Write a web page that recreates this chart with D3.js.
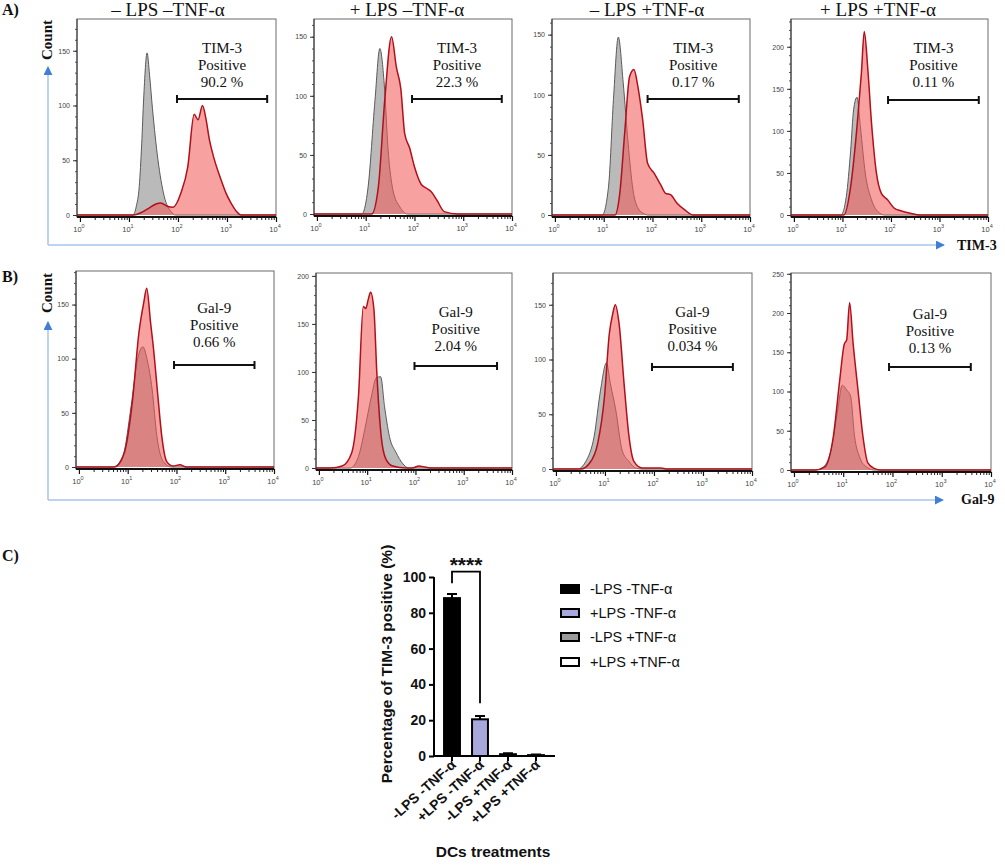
<!DOCTYPE html>
<html><head><meta charset="utf-8">
<script src="https://cdn.jsdelivr.net/npm/d3@7"></script>
<style>html,body{margin:0;padding:0;background:#fff;}svg{display:block;}</style>
</head><body>
<script>
// ---------------- DATA ----------------
const tim3Titles = ["– LPS –TNF-α", "+ LPS –TNF-α", "– LPS +TNF-α", "+ LPS +TNF-α"];
const tim3Pct = ["90.2 %", "22.3 %", "0.17 %", "0.11 %"];
const gal9Pct = ["0.66 %", "2.04 %", "0.034 %", "0.13 %"];
const tim3Gate = [[1.98, 3.82], [1.95, 3.79], [1.9, 3.77], [1.94, 3.81]];
const gal9Gate = [[1.95, 3.6], [1.98, 3.69], [1.96, 3.61], [1.93, 3.59]];
const tim3YTicks = [[0,50,100,150],[0,50,100,150],[0,50,100,150],[0,50,100,150,200]];
const gal9YTicks = [[0,50,100,150],[0,50,100,150,200],[0,50,100,150],[0,50,100,150,200,250]];
const tim3YMax = [179, 165, 163, 233];
const gal9YMax = [181, 203, 179, 251];
const xTickExps = [0, 1, 2, 3, 4];

// histogram points: [log10 fluorescence, count]
const a1Gray = [[1.08,0],[1.15,8],[1.21,26],[1.26,65],[1.3,106],[1.37,148],[1.42,128],[1.48,97],[1.59,51],[1.72,17],[1.86,3],[1.95,0]];
const a1Red = [[1.1,0],[1.24,2],[1.4,6],[1.55,10],[1.65,11],[1.78,8],[1.9,7],[2.06,20],[2.2,44],[2.33,92],[2.41,87],[2.5,100],[2.57,88],[2.64,69],[2.74,51],[2.88,32],[2.98,20],[3.08,11],[3.18,4],[3.29,0]];
const a2Gray = [[0.92,0],[1.05,23],[1.19,96],[1.29,140],[1.38,110],[1.46,54],[1.56,20],[1.7,6],[1.86,0]];
const a2Red = [[1.12,0],[1.26,23],[1.39,96],[1.53,150],[1.63,124],[1.72,106],[1.8,68],[1.9,56],[2.0,40],[2.14,25],[2.24,22],[2.34,19],[2.47,11],[2.61,2],[2.88,0]];
const a3Gray = [[0.97,0],[1.1,24],[1.2,96],[1.3,148],[1.4,110],[1.5,60],[1.6,21],[1.7,6],[1.83,1],[1.9,0]];
const a3Red = [[1.23,0],[1.33,18],[1.43,68],[1.53,115],[1.62,121],[1.7,107],[1.8,79],[1.9,43],[2.03,35],[2.17,25],[2.27,18],[2.37,17],[2.5,10],[2.67,4],[2.83,0]];
const a4Gray = [[0.97,0],[1.08,22],[1.17,77],[1.23,125],[1.3,140],[1.37,105],[1.47,50],[1.6,18],[1.73,4],[1.87,0]];
const a4Red = [[1.03,0],[1.17,34],[1.3,105],[1.39,168],[1.45,218],[1.52,176],[1.6,109],[1.7,50],[1.8,26],[1.93,18],[2.07,8],[2.2,5],[2.4,2],[2.6,0]];
const b1Gray = [[0.7,0],[0.9,10],[1.07,56],[1.2,99],[1.31,111],[1.4,99],[1.5,72],[1.6,28],[1.73,5],[1.9,0]];
const b1Red = [[0.73,0],[0.93,13],[1.1,62],[1.23,124],[1.33,152],[1.39,165],[1.47,133],[1.53,109],[1.62,65],[1.7,28],[1.8,5],[1.93,1],[2.07,2],[2.2,0]];
const b2Gray = [[0.65,0],[0.82,12],[0.95,40],[1.09,75],[1.19,94],[1.28,95],[1.36,64],[1.46,33],[1.6,16],[1.73,5],[1.86,0]];
const b2Red = [[0.24,0],[0.48,2],[0.68,16],[0.82,75],[0.92,168],[0.97,166],[1.02,175],[1.07,183],[1.14,165],[1.2,99],[1.29,33],[1.39,9],[1.53,2],[1.8,0],[1.93,0],[2.07,2],[2.2,1],[2.34,0]];
const b3Gray = [[0.44,0],[0.61,7],[0.78,30],[0.91,72],[1.03,97],[1.11,78],[1.22,54],[1.35,17],[1.49,7],[1.62,1],[1.76,0]];
const b3Red = [[0.51,0],[0.68,5],[0.85,23],[0.99,66],[1.09,124],[1.16,142],[1.21,150],[1.29,132],[1.39,78],[1.49,30],[1.59,7],[1.76,1],[1.93,1],[2.14,1],[2.27,0]];
const b4Gray = [[0.43,0],[0.6,4],[0.77,30],[0.89,77],[0.98,108],[1.07,102],[1.15,94],[1.23,43],[1.33,17],[1.47,4],[1.63,0]];
const b4Red = [[0.43,0],[0.63,4],[0.8,43],[0.93,115],[1.02,160],[1.07,166],[1.13,213],[1.2,162],[1.3,102],[1.4,43],[1.5,9],[1.63,2],[1.77,0]];

const barCategories = ["-LPS -TNF-α", "+LPS -TNF-α", "-LPS +TNF-α", "+LPS +TNF-α"];
const barValues = [88.2, 20.5, 1.0, 0.5];
const barErrors = [2.3, 1.9, 0.5, 0.3];
const barFills = ["#000000", "#a9a8dc", "#9a9a9a", "#ffffff"];
const barYTicks = [0, 20, 40, 60, 80, 100];

// ---------------- LAYOUT ----------------
const W = 1005, H = 865;
const SERIF = "'Liberation Serif','Times New Roman',serif";
const SANS = "'Liberation Sans',Arial,sans-serif";
const svg = d3.select("body").append("svg").attr("width", W).attr("height", H);

const rowA = [{x0:77,x1:276,top:19,bot:217},{x0:314,x1:512,top:19,bot:216},{x0:552,x1:750,top:19,bot:217},{x0:791,x1:988,top:19,bot:217}];
const rowB = [{x0:76,x1:274,top:271,bot:469},{x0:316,x1:512,top:273,bot:470},{x0:553,x1:752,top:273,bot:471},{x0:791,x1:991,top:273,bot:472}];
const titleX = [168, 407, 647, 878];
const labelYA = [53, 53, 53, 53];
const labelYB = [313, 317, 317, 319];
const gateYA = [99, 99, 99, 100];
const gateYB = [365, 366, 367, 367];
const xDom = [-0.06, 4];

function drawHist(p, gray, red, yMax, yTicks, gate, marker, pct, labelY, gateY) {
  const x = d3.scaleLinear().domain(xDom).range([p.x0, p.x1]);
  const xLog = d3.scaleLog().domain([Math.pow(10, xDom[0]), 1e4]).range([p.x0, p.x1]);
  const y = d3.scaleLinear().domain([0, yMax]).range([p.bot - 2, p.top]);
  const g = svg.append("g");
  g.append("rect").attr("x", p.x0).attr("y", p.top).attr("width", p.x1 - p.x0).attr("height", p.bot - p.top)
    .attr("fill", "none").attr("stroke", "#6a6a6a").attr("stroke-width", 1);
  const ext = arr => [[xDom[0], 0]].concat(arr, [[xDom[1], 0]]);
  const area = d3.area().x(d => x(d[0])).y0(y(0)).y1(d => y(d[1])).curve(d3.curveMonotoneX);
  const line = d3.line().x(d => x(d[0])).y(d => y(d[1])).curve(d3.curveMonotoneX);
  const clipId = "c" + Math.round(p.x0) + "_" + Math.round(p.top);
  g.append("clipPath").attr("id", clipId).append("rect").attr("x", p.x0).attr("y", p.top).attr("width", p.x1 - p.x0).attr("height", p.bot - p.top);
  const pg = g.append("g").attr("clip-path", `url(#${clipId})`);
  pg.append("path").datum(ext(gray)).attr("d", area).attr("fill", "#bababa");
  pg.append("path").datum(ext(gray)).attr("d", line).attr("fill", "none").attr("stroke", "#5a5a5a").attr("stroke-width", 1);
  pg.append("path").datum(ext(red)).attr("d", area).attr("fill", "rgb(241,87,87)").attr("fill-opacity", 0.56);
  pg.append("path").datum(ext(red)).attr("d", line).attr("fill", "none").attr("stroke", "#b0101a").attr("stroke-width", 1.5);
  const minorY = d3.range(0, yMax + 0.01, 10);
  g.append("g").attr("transform", `translate(${p.x0},0)`)
    .call(d3.axisLeft(y).tickValues(minorY).tickSize(2).tickFormat(""))
    .call(a => a.select(".domain").remove())
    .call(a => a.selectAll("line").attr("stroke", "#555"));
  g.append("g").attr("transform", `translate(${p.x0},0)`)
    .call(d3.axisLeft(y).tickValues(yTicks).tickSize(4).tickPadding(3))
    .call(a => a.select(".domain").attr("stroke", "#333").attr("d", `M0,${p.bot}V${p.top}`))
    .call(a => a.selectAll("line").attr("stroke", "#333"))
    .call(a => a.selectAll("text").attr("font-family", SANS).attr("font-size", 7).attr("fill", "#444"));
  const minorX = [];
  for (let e = 0; e < 4; e++) for (let m = 2; m <= 9; m++) minorX.push(m * Math.pow(10, e));
  g.append("g").attr("transform", `translate(0,${p.bot})`)
    .call(d3.axisBottom(xLog).tickValues(minorX).tickSize(3).tickFormat(""))
    .call(a => a.select(".domain").remove())
    .call(a => a.selectAll("line").attr("stroke", "#222"));
  g.append("g").attr("transform", `translate(0,${p.bot})`)
    .call(d3.axisBottom(xLog).tickValues(xTickExps.map(e => Math.pow(10, e))).tickSize(5).tickFormat(""))
    .call(a => a.select(".domain").attr("stroke", "#111").attr("stroke-width", 2).attr("d", `M${p.x0},0H${p.x1}`))
    .call(a => a.selectAll("line").attr("stroke", "#111").attr("stroke-width", 1.2));
  xTickExps.forEach(e => {
    const t = g.append("text").attr("x", xLog(Math.pow(10, e)) - 1).attr("y", p.bot + 15)
      .attr("text-anchor", "middle").attr("font-family", SANS).attr("font-size", 7.5).attr("fill", "#444");
    t.append("tspan").text("10");
    t.append("tspan").attr("dy", -4).attr("font-size", 5.5).text(e);
  });
  const gx0 = x(gate[0]), gx1 = x(gate[1]), gc = (gx0 + gx1) / 2;
  [marker, "Positive", pct].forEach((s, i) => {
    g.append("text").attr("x", gc).attr("y", labelY + i * 17).attr("text-anchor", "middle")
      .attr("font-family", SERIF).attr("font-size", 15).attr("fill", "#111").text(s);
  });
  g.append("path").attr("d", `M${gx0},${gateY}H${gx1}M${gx0},${gateY - 4}V${gateY + 4}M${gx1},${gateY - 4}V${gateY + 4}`)
    .attr("stroke", "#111").attr("stroke-width", 2).attr("fill", "none");
}

const aGray = [a1Gray, a2Gray, a3Gray, a4Gray], aRed = [a1Red, a2Red, a3Red, a4Red];
const bGray = [b1Gray, b2Gray, b3Gray, b4Gray], bRed = [b1Red, b2Red, b3Red, b4Red];
rowA.forEach((p, i) => drawHist(p, aGray[i], aRed[i], tim3YMax[i], tim3YTicks[i], tim3Gate[i], "TIM-3", tim3Pct[i], labelYA[i], gateYA[i]));
rowB.forEach((p, i) => drawHist(p, bGray[i], bRed[i], gal9YMax[i], gal9YTicks[i], gal9Gate[i], "Gal-9", gal9Pct[i], labelYB[i], gateYB[i]));

tim3Titles.forEach((t, i) => svg.append("text").attr("x", titleX[i]).attr("y", 16).attr("text-anchor", "middle")
  .attr("font-family", SERIF).attr("font-size", 19).attr("fill", "#111").text(t));

[["A)", 15], ["B)", 282], ["C)", 561]].forEach(([s, yy]) => svg.append("text").attr("x", 2).attr("y", yy)
  .attr("font-family", SERIF).attr("font-weight", "bold").attr("font-size", 16).attr("fill", "#111").text(s));

[[52, 40], [52, 293]].forEach(([xx, yy]) => svg.append("text").attr("transform", `translate(${xx},${yy}) rotate(-90)`)
  .attr("text-anchor", "middle").attr("font-family", SERIF).attr("font-weight", "bold").attr("font-size", 15).attr("fill", "#111").text("Count"));

const defs = svg.append("defs");
defs.append("marker").attr("id", "arr").attr("viewBox", "0 0 10 10").attr("refX", 9).attr("refY", 5)
  .attr("markerWidth", 9).attr("markerHeight", 9).attr("markerUnits", "userSpaceOnUse").attr("orient", "auto")
  .append("path").attr("d", "M0,0L10,5L0,10Z").attr("fill", "#3f7fd8");
function blueAxes(yb, ytop, xend) {
  svg.append("path").attr("d", `M48,${yb}V${ytop}`).attr("stroke", "#a6c6ee").attr("stroke-width", 1.5).attr("fill", "none").attr("marker-end", "url(#arr)");
  svg.append("path").attr("d", `M48,${yb}H${xend}`).attr("stroke", "#a6c6ee").attr("stroke-width", 1.5).attr("fill", "none").attr("marker-end", "url(#arr)");
}
blueAxes(245, 67, 944);
blueAxes(500, 322, 943);
svg.append("text").attr("x", 957).attr("y", 250).attr("font-family", SERIF).attr("font-weight", "bold").attr("font-size", 14).attr("fill", "#111").text("TIM-3");
svg.append("text").attr("x", 961).attr("y", 504).attr("font-family", SERIF).attr("font-weight", "bold").attr("font-size", 14).attr("fill", "#111").text("Gal-9");

// ---------------- PANEL C ----------------
const cy = d3.scaleLinear().domain([0, 100]).range([756, 577]);
const cx = d3.scaleBand().domain(barCategories).range([438, 550]).paddingInner(0.36).paddingOuter(0.18);
const gc = svg.append("g");
gc.append("g").attr("transform", "translate(434,0)")
  .call(d3.axisLeft(cy).tickValues(barYTicks).tickSize(5).tickPadding(3))
  .call(a => a.select(".domain").attr("stroke-width", 2).attr("d", "M0,757V577"))
  .call(a => a.selectAll("line").attr("stroke-width", 2))
  .call(a => a.selectAll("text").attr("font-family", SANS).attr("font-weight", "bold").attr("font-size", 14).attr("fill", "#111"));
gc.selectAll(".bar").data(barCategories).enter().append("rect")
  .attr("x", d => cx(d) + 1).attr("width", cx.bandwidth() - 2)
  .attr("y", (d, i) => cy(barValues[i])).attr("height", (d, i) => cy(0) - cy(barValues[i]))
  .attr("fill", (d, i) => barFills[i]).attr("stroke", "#000").attr("stroke-width", 2);
barCategories.forEach((d, i) => {
  const c = cx(d) + cx.bandwidth() / 2, top = cy(barValues[i] + barErrors[i]);
  gc.append("path").attr("d", `M${c},${cy(barValues[i])}V${top}M${c - 5},${top}H${c + 5}`)
    .attr("stroke", "#000").attr("stroke-width", 2).attr("fill", "none");
});
gc.append("g").attr("transform", "translate(0,756)")
  .call(d3.axisBottom(cx).tickSize(5).tickFormat(""))
  .call(a => a.select(".domain").attr("stroke-width", 2).attr("d", "M433,0H555"))
  .call(a => a.selectAll("line").attr("stroke-width", 2));
barCategories.forEach(d => {
  const c = cx(d) + cx.bandwidth() / 2;
  gc.append("text").attr("transform", `translate(${c + 5},${766}) rotate(-42)`).attr("text-anchor", "end")
    .attr("font-family", SANS).attr("font-weight", "bold").attr("font-size", 14).attr("fill", "#111").text(d);
});
{
  const c1 = cx(barCategories[0]) + cx.bandwidth() / 2, c2 = cx(barCategories[1]) + cx.bandwidth() / 2;
  gc.append("path").attr("d", `M${c1},${cy(96.5)}V${cy(103)}H${c2}V${cy(29.5)}`).attr("stroke", "#000").attr("stroke-width", 1.8).attr("fill", "none");
  gc.append("text").attr("x", (c1 + c2) / 2).attr("y", 572).attr("text-anchor", "middle").attr("font-family", SANS)
    .attr("font-weight", "bold").attr("font-size", 21).attr("fill", "#111").text("****");
}
gc.append("text").attr("transform", "translate(392,664) rotate(-90)").attr("text-anchor", "middle")
  .attr("font-family", SANS).attr("font-weight", "bold").attr("font-size", 15.5).attr("fill", "#111").text("Percentage of TIM-3 positive (%)");
gc.append("text").attr("x", 493).attr("y", 857).attr("text-anchor", "middle")
  .attr("font-family", SANS).attr("font-weight", "bold").attr("font-size", 15.5).attr("fill", "#111").text("DCs treatments");
const legY = [589, 613, 637, 662];
barCategories.forEach((d, i) => {
  gc.append("rect").attr("x", 561).attr("y", legY[i] - 4).attr("width", 18).attr("height", 8)
    .attr("fill", barFills[i]).attr("stroke", "#000").attr("stroke-width", 2);
  gc.append("text").attr("x", 590).attr("y", legY[i] + 5).attr("font-family", SANS).attr("font-size", 14.5).attr("fill", "#111").text(d);
});
</script>
</body></html>
